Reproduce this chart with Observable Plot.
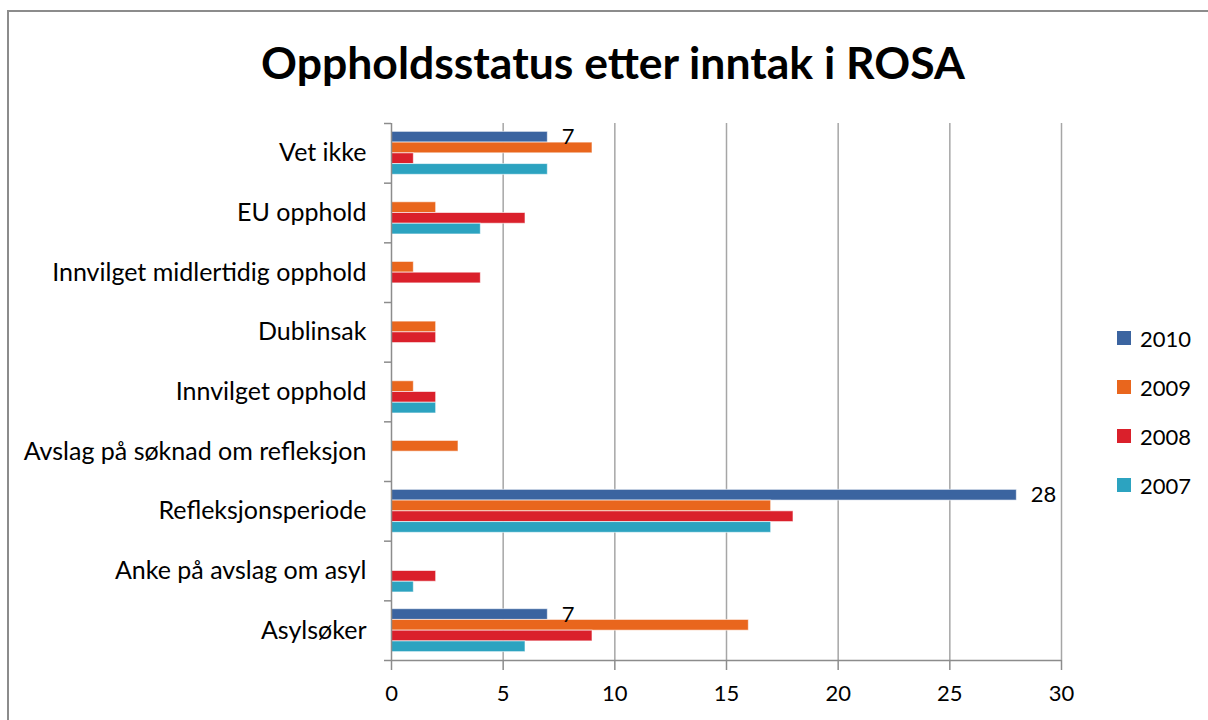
<!DOCTYPE html>
<html><head><meta charset="utf-8">
<script src="https://cdn.jsdelivr.net/npm/d3@7"></script>
<script src="https://cdn.jsdelivr.net/npm/@observablehq/plot@0.6"></script>
<style>
html,body{margin:0;padding:0;background:#fff;overflow:hidden;width:1208px;height:720px;}
body{font-family:Lato,"Open Sans",sans-serif;position:relative;color:#000;}
#frame{position:absolute;left:7px;top:10px;width:1400px;height:900px;border:2px solid #8c8c8c;box-sizing:border-box;}
#title{position:absolute;left:0;width:1226px;top:40px;text-align:center;font-weight:bold;font-size:44.5px;line-height:1;}
#chart{position:absolute;left:0;top:0;}
#legend{position:absolute;left:1117px;top:324px;}
.li{display:flex;align-items:center;height:28px;margin-bottom:21px;font-size:22px;}
.sw{width:14px;height:14px;margin-right:9px;}
</style></head>
<body>
<div id="frame"></div>
<div id="title">Oppholdsstatus etter inntak i ROSA</div>
<div id="chart"></div>
<div id="legend"></div>
<script>
const categories = ["Vet ikke","EU opphold","Innvilget midlertidig opphold","Dublinsak","Innvilget opphold","Avslag på søknad om refleksjon","Refleksjonsperiode","Anke på avslag om asyl","Asylsøker"];
const years = ["2010","2009","2008","2007"];
const values2010 = [7,0,0,0,0,0,28,0,7];
const values2009 = [9,2,1,2,1,3,17,0,16];
const values2008 = [1,6,4,2,2,0,18,2,9];
const values2007 = [7,4,0,0,2,0,17,1,6];
const labelledYear = "2010";
const xTicks = [0,5,10,15,20,25,30];
const colors = ["#3b64a0","#e9661d","#da202b","#2ca3c0"];

const series = [values2010, values2009, values2008, values2007];
const gap = 0.14, bh = 0.18;
const rows = [];
categories.forEach((c, i) => {
  years.forEach((yr, j) => {
    const v = series[j][i];
    if (v > 0) {
      const y1 = i + gap + j * bh;
      rows.push({cat: c, year: yr, value: v, y1, y2: y1 + bh, ym: y1 + bh / 2});
    }
  });
});
const labelRows = rows.filter(r => r.year === labelledYear);

const chart = Plot.plot({
  width: 1208, height: 720,
  marginLeft: 391, marginRight: 147, marginTop: 123, marginBottom: 60,
  style: {background: "transparent", fontFamily: "Lato, sans-serif", fontSize: "22px", color: "#000", overflow: "visible"},
  x: {domain: [0, 30], label: null},
  y: {domain: [0, 9], reverse: true, label: null},
  color: {domain: years, range: colors},
  marks: [
    Plot.gridX(xTicks.slice(1), {stroke: "#a6a6a6", strokeOpacity: 1, strokeWidth: 1.5}),
    Plot.rect(rows, {x1: d => 0, x2: "value", y1: "y1", y2: "y2", fill: "year", stroke: "#ffffff", strokeOpacity: 0.6, strokeWidth: 1}),
    Plot.ruleX([0], {stroke: "#8c8c8c", strokeWidth: 1.5}),
    Plot.ruleY([9], {stroke: "#8c8c8c", strokeWidth: 1.5}),
    Plot.axisY(d3.range(0, 10), {tickSize: 7, tickFormat: () => "", stroke: "#8c8c8c", strokeWidth: 1.5, label: null}),
    Plot.axisY(d3.range(0, 9).map(i => i + 0.5), {tickSize: 0, tickPadding: 25, tickFormat: d => categories[Math.floor(d)], fontSize: 25, fill: "#000", label: null}),
    Plot.axisX(xTicks, {tickSize: 10, tickPadding: 15, stroke: "#8c8c8c", strokeWidth: 1.5, fontSize: 22, fill: "#000", label: null}),
    Plot.text(labelRows, {x: "value", y: "ym", text: d => String(d.value), dx: 14, textAnchor: "start", fontSize: 22, fill: "#000"})
  ]
});
document.getElementById("chart").appendChild(chart);

const legend = document.getElementById("legend");
years.forEach((yr, j) => {
  const li = document.createElement("div");
  li.className = "li";
  li.innerHTML = `<div class="sw" style="background:${colors[j]}"></div><span>${yr}</span>`;
  legend.appendChild(li);
});
</script>
</body></html>
